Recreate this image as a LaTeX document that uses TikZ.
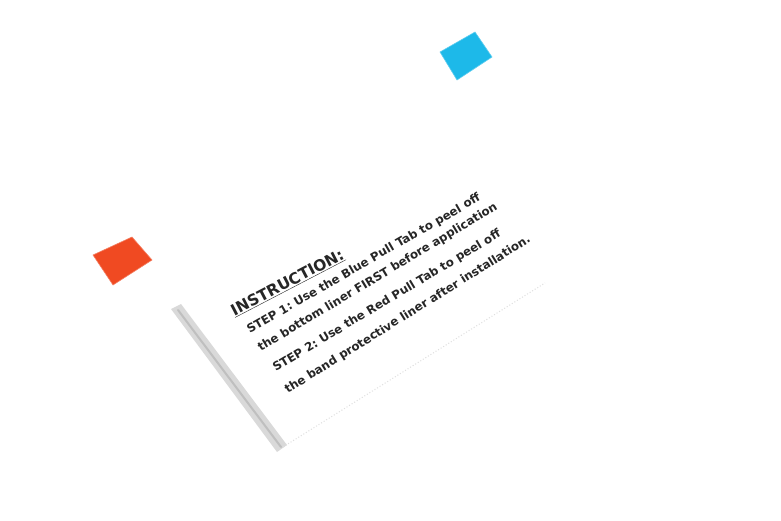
\documentclass[tikz,border=0pt]{standalone}
\usepackage{fontspec}
\setmainfont{DejaVu Sans}
\usepackage{xcolor}
\definecolor{tabred}{HTML}{F04A22}
\definecolor{tabblue}{HTML}{1DB9E9}
\colorlet{inktext}{black!85}
\frenchspacing

\begin{document}
\begin{tikzpicture}[x=1pt, y=-1pt,
		line/.style={font=\bfseries\fontsize{11.8}{13}\selectfont, text=inktext, anchor=west, inner sep=0pt},
		tab/.style={draw=#1!70!white, line width=0.6pt, fill=#1}]
				\useasboundingbox (0,0) rectangle (781,521);
				\fill[white] (0,0) rectangle (781,521);

				% card edge
				\fill[gray!30] (171,309) -- (181,304) -- (287,445) -- (277,452) -- cycle;
				\draw[gray!50, line width=2pt, line cap=round] (178,310) -- (281,447);
				\draw[gray!25, dotted, line width=1pt] (283,447) -- (545,283);

				% pull tabs
				\draw[tab=tabred] (93,255) -- (132,237) -- (152,260) -- (113,285) -- cycle;
				\draw[tab=tabblue] (440,52) -- (475,32) -- (492,57) -- (457,80) -- cycle;

				% instruction text
				\node[line, font=\bfseries\fontsize{15.5}{17}\selectfont, rotate=27.5] (head) at (232,312) {\underline{INSTRUCTION:}};
				\node[line, rotate=30] (s1a) at (248,331) {STEP 1: Use the Blue Pull Tab to peel off};
				\node[line, rotate=31] (s1b) at (259,349) {the bottom liner FIRST before application};
				\node[line, rotate=31] (s2a) at (274,369) {STEP 2: Use the Red Pull Tab to peel off};
				\node[line, rotate=32] (s2b) at (286,391) {the band protective liner after installation.};
			\end{tikzpicture}
\end{document}
